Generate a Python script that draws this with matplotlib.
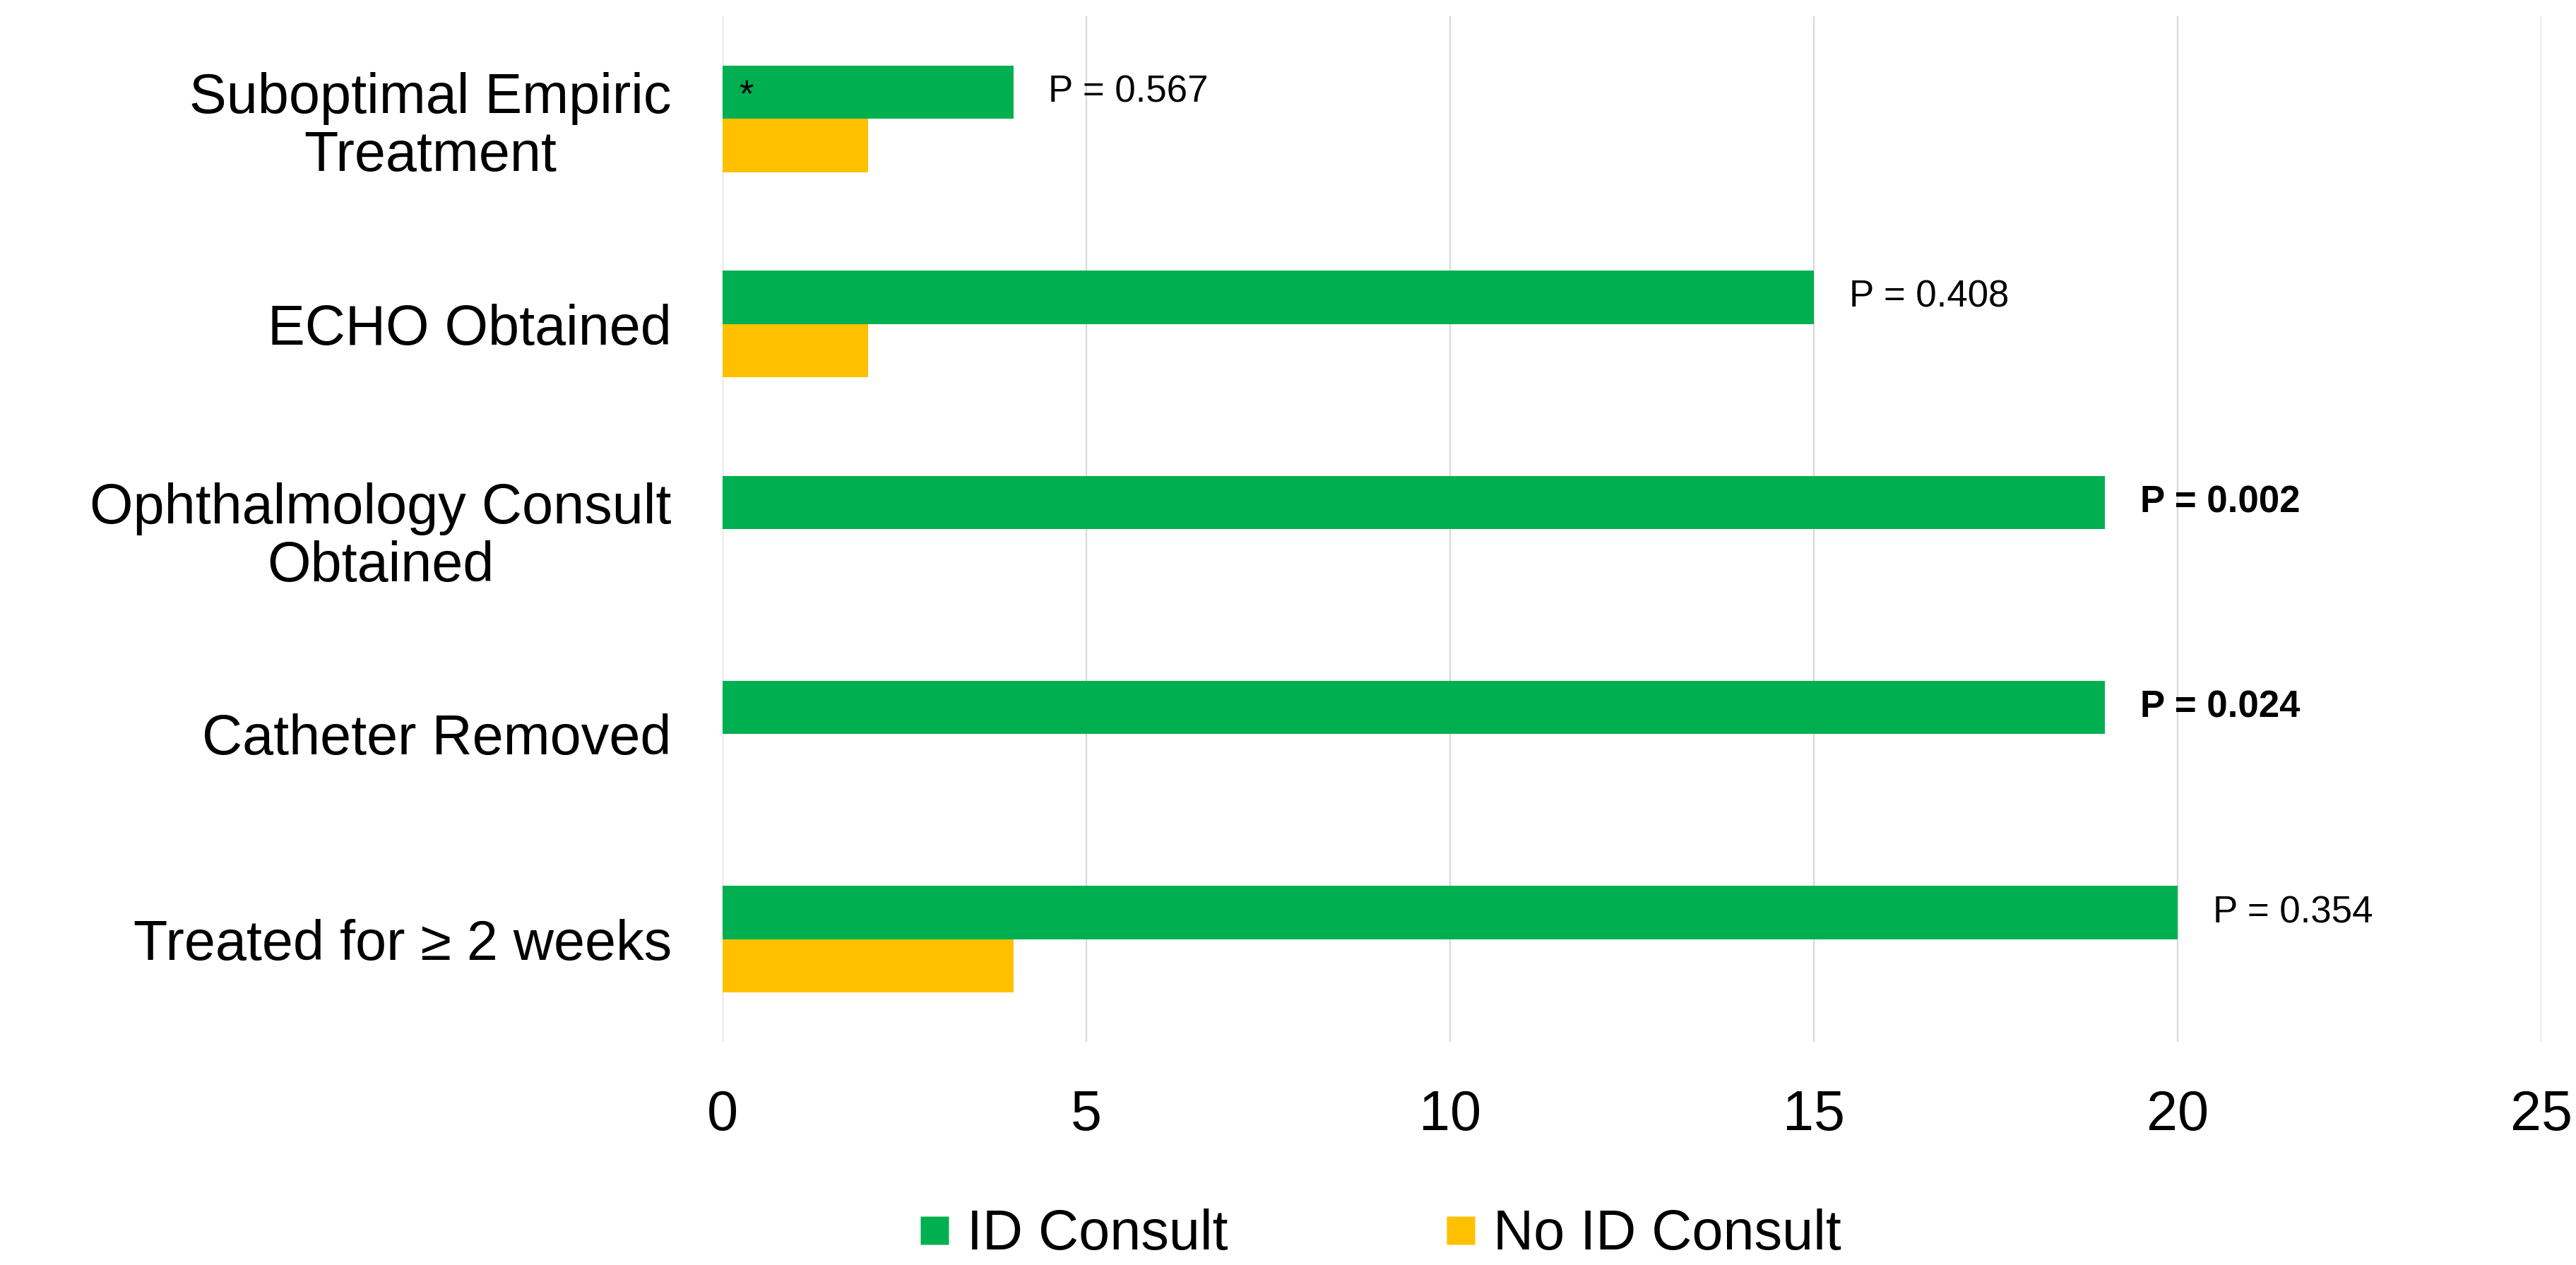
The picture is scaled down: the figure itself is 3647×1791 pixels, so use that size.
import matplotlib
matplotlib.use("Agg")
import matplotlib.pyplot as plt
from matplotlib.lines import Line2D
import numpy as np

categories = ["Suboptimal Empiric\nTreatment", "ECHO Obtained",
              "Ophthalmology Consult\nObtained", "Catheter Removed",
              "Treated for \u2265 2 weeks"]
id_consult = [4, 15, 19, 19, 20]
no_id_consult = [2, 2, 0, 0, 4]
p_labels = ["P = 0.567", "P = 0.408", "P = 0.002", "P = 0.024", "P = 0.354"]
p_bold = [False, False, True, True, False]
series_names = ["ID Consult", "No ID Consult"]
x_ticks = [0, 5, 10, 15, 20, 25]

GREEN = "#00B050"
ORANGE = "#FFC000"

plt.rcParams['font.family'] = ['Liberation Sans', 'DejaVu Sans']

fig = plt.figure(figsize=(36.47, 17.91), dpi=100)
ax = fig.add_axes([0.2805, 0.1764, 0.7061, 0.8107])

y = np.arange(len(categories))
h = 0.26
ax.barh(y - h / 2, id_consult, height=h, color=GREEN, zorder=3)
ax.barh(y + h / 2, no_id_consult, height=h, color=ORANGE, zorder=3)

for i, (v, lab, b) in enumerate(zip(id_consult, p_labels, p_bold)):
    ax.text(v + 0.48, y[i] - h / 2, lab, fontsize=38,
            fontweight='bold' if b else 'normal', va='center', ha='left')

# asterisk in first bar
ax.text(0.22, y[0] - h / 2 + 0.02, "*", fontsize=38, va='center', ha='left')

ax.set_xlim(0, 25)
ax.set_ylim(len(categories) - 0.5, -0.5)
ax.set_xticks(x_ticks)
ax.set_xticklabels([str(t) for t in x_ticks])
ax.set_yticks(y)
ax.set_yticklabels(categories, multialignment='center', linespacing=1.13)
ax.tick_params(axis='x', labelsize=57, length=0, pad=48)
ax.tick_params(axis='y', labelsize=57, length=0, pad=52)
ax.grid(axis='x', color='#D9D9D9', linewidth=1.6, zorder=0)
ax.set_axisbelow(True)
for s in ax.spines.values():
    s.set_visible(False)

handles = [Line2D([0], [0], marker='s', color='none', markerfacecolor=GREEN,
                  markeredgecolor='none', markersize=29),
           Line2D([0], [0], marker='s', color='none', markerfacecolor=ORANGE,
                  markeredgecolor='none', markersize=29)]
fig.legend(handles, series_names, loc='center', bbox_to_anchor=(0.536, 0.0235),
           ncol=2, frameon=False, fontsize=57, handlelength=0.52,
           handletextpad=0.32, columnspacing=3.9, borderpad=0)

fig.savefig("out.png", dpi=100)
